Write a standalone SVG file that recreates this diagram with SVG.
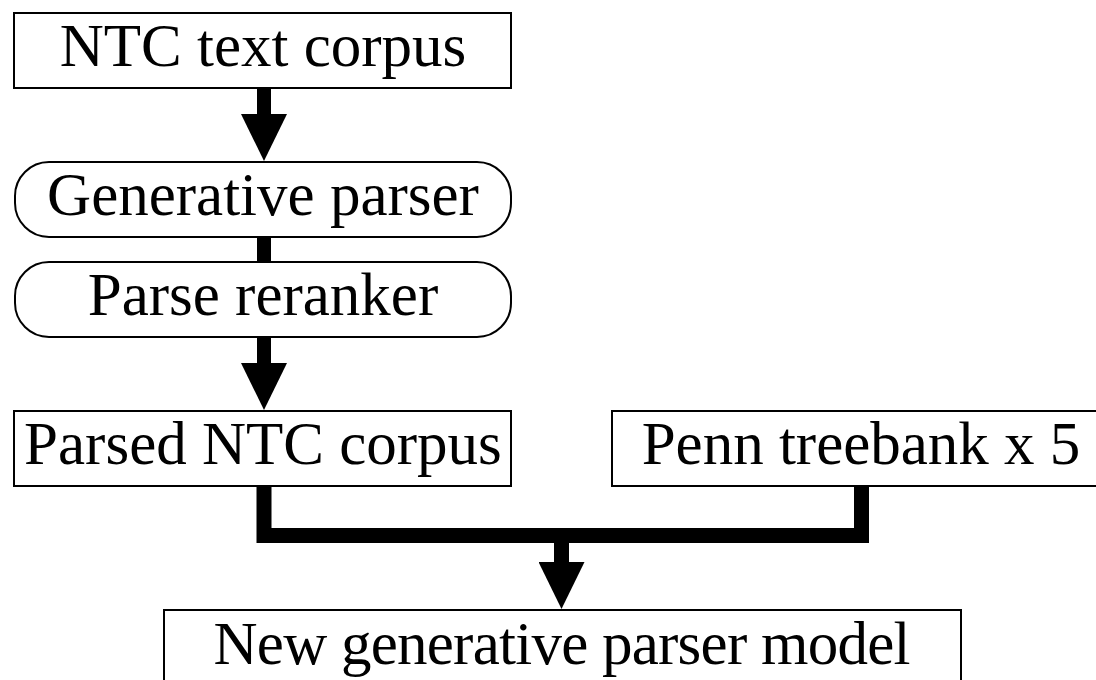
<svg xmlns="http://www.w3.org/2000/svg" width="1096" height="680" viewBox="0 0 1096 680">
  <style>
    .box { fill: #ffffff; stroke: #000000; stroke-width: 2; }
    .label { font-family: "Liberation Serif", "DejaVu Serif", serif; font-size: 61px; fill: #000000; text-anchor: middle; }
    .flow { fill: none; stroke: #000000; stroke-width: 14; stroke-linecap: butt; stroke-linejoin: miter; }
  </style>
  <defs>
    <marker id="head" markerUnits="userSpaceOnUse" viewBox="0 0 47 46" markerWidth="47" markerHeight="46" refX="0" refY="23" orient="auto">
      <path d="M0,0 L47,23 L0,46 Z" fill="#000000"/>
    </marker>
  </defs>
  <rect width="1096" height="680" fill="#ffffff"/>

  <!-- connectors -->
  <g id="connectors">
    <path class="flow" d="M264,88 V114" marker-end="url(#head)"/>
    <path class="flow" d="M264,237 V262"/>
    <path class="flow" d="M264,337 V363" marker-end="url(#head)"/>
    <path class="flow" style="stroke-width:15" d="M264,486 V535.5 H861.5 V486"/>
    <path class="flow" style="stroke-width:15" d="M561.5,543 V562" marker-end="url(#head)"/>
  </g>

  <!-- nodes -->
  <g id="ntc-text-corpus">
    <rect class="box" x="14" y="13" width="497" height="75"/>
    <text class="label" x="263" y="66">NTC text corpus</text>
  </g>
  <g id="generative-parser">
    <rect class="box" x="15" y="162" width="496" height="75" rx="34" ry="34"/>
    <text class="label" x="263" y="215">Generative parser</text>
  </g>
  <g id="parse-reranker">
    <rect class="box" x="15" y="262" width="496" height="75" rx="34" ry="34"/>
    <text class="label" x="263" y="315">Parse reranker</text>
  </g>
  <g id="parsed-ntc-corpus">
    <rect class="box" x="14" y="411" width="497" height="75"/>
    <text class="label" x="263" y="464">Parsed NTC corpus</text>
  </g>
  <g id="penn-treebank">
    <rect class="box" x="612" y="411" width="499" height="75"/>
    <text class="label" x="861" y="464">Penn treebank x 5</text>
  </g>
  <g id="new-generative-parser-model">
    <rect class="box" x="164" y="610" width="797" height="76"/>
    <text class="label" x="562" y="664" textLength="697">New generative parser model</text>
  </g>
</svg>
